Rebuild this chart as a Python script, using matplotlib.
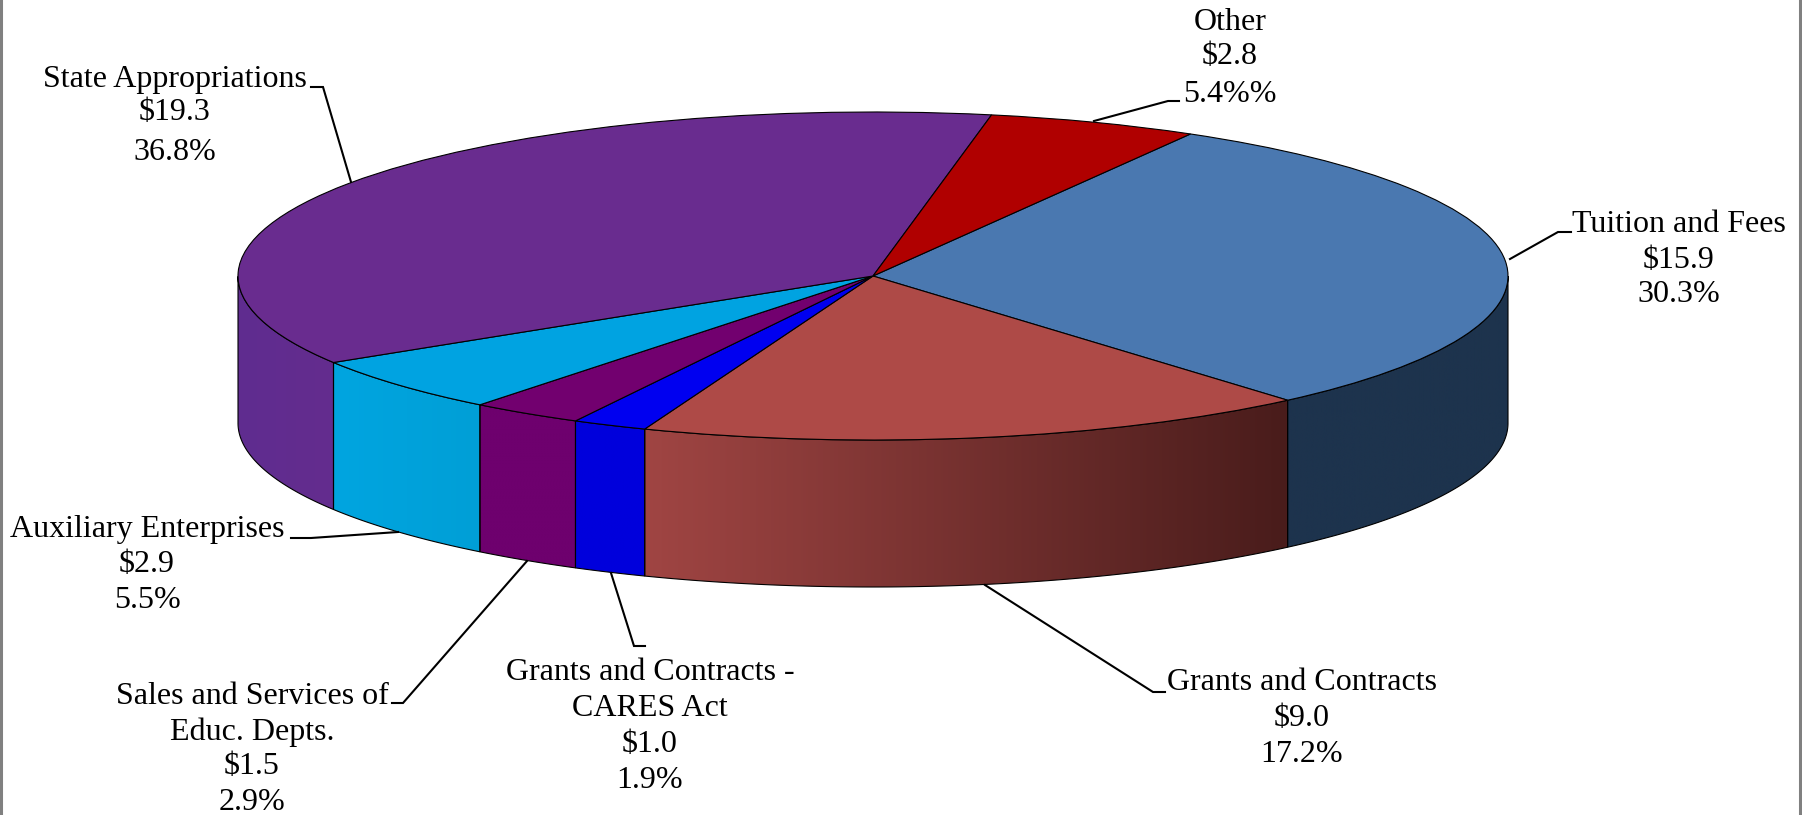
import numpy as np
import matplotlib
matplotlib.use('Agg')
import matplotlib.pyplot as plt
from matplotlib.colors import LinearSegmentedColormap
from matplotlib.patches import Polygon

# Revenue slices, clockwise from the top right
categories = ['Tuition and Fees', 'Grants and Contracts',
              'Grants and Contracts -\nCARES Act', 'Sales and Services of\nEduc. Depts.',
              'Auxiliary Enterprises', 'State Appropriations', 'Other']
amounts = [15.9, 9.0, 1.0, 1.5, 2.9, 19.3, 2.8]
percent_labels = ['30.3%', '17.2%', '1.9%', '2.9%', '5.5%', '36.8%', '5.4%%']

top_colors = ['#4A78B0', '#AE4A47', '#0000F0', '#72006F', '#00A3E1', '#692C8F', '#B00000']
side_left = ['#1D334D', '#A04543', '#0000DC', '#6E006E', '#00A5E0', '#5F2D90', '#B00000']
side_right = ['#1D334D', '#491C1B', '#0000DC', '#6E006E', '#009FD6', '#642C8E', '#B00000']

# Pixel layout of the pie: centre, radii and wall height
WIDTH, HEIGHT = 1802, 815
CX, CY, RX, RY, DEPTH = 873, 276, 635, 164, 147
START_ANGLE = 60

# y of every text line and the centre x of each label, same order as categories
label_x = [1679, 1302, 650, 252, 147, 175, 1230]
label_line_y = [[224, 260, 295], [683, 718, 755], [673, 708, 744, 780],
                [696, 732, 766, 802], [529, 564, 601], [79, 113, 152], [23, 57, 95]]
leaders = [[(1571, 232), (1558, 232), (1510, 259)],
           [(1165, 692), (1153, 692), (985, 585)],
           [(645, 646), (634, 646), (611, 573)],
           [(392, 703), (403, 703), (527, 561)],
           [(291, 538), (311, 538), (398, 532)],
           [(311, 87), (323, 87), (351, 182)],
           [(1179, 101), (1168, 101), (1094, 121)]]


def draw_walls(ax):
    depth = DEPTH / RY
    angle = START_ANGLE
    for value, left, right in zip(amounts, side_left, side_right):
        end = angle - value / sum(amounts) * 360
        t = np.radians(np.linspace(end, angle, 720))
        # only the part facing the viewer is visible
        t = t[np.sin(t) <= 0]
        angle = end
        if len(t) == 0:
            continue
        xs = np.concatenate([np.cos(t), np.cos(t[::-1])])
        ys = np.concatenate([np.sin(t), np.sin(t[::-1]) - depth])
        cmap = LinearSegmentedColormap.from_list('side', [left, right])
        im = ax.imshow(np.linspace(0, 1, 256).reshape(1, -1), cmap=cmap, aspect='auto',
                       extent=[xs.min(), xs.max(), ys.min(), ys.max()], zorder=1)
        wall = Polygon(np.column_stack([xs, ys]), closed=True, facecolor='none',
                       edgecolor='black', linewidth=0.8, zorder=2)
        ax.add_patch(wall)
        im.set_clip_path(wall)


plt.rcParams['font.family'] = ['Liberation Serif', 'DejaVu Serif']
fig = plt.figure(figsize=(WIDTH / 100, HEIGHT / 100), dpi=100)

# Unit-circle axes squashed into an ellipse, so the pie tilts
ax = fig.add_axes([0, 0, 1, 1])
draw_walls(ax)
wedges, _ = ax.pie(amounts, colors=top_colors, startangle=START_ANGLE, counterclock=False,
                   radius=1, wedgeprops={'edgecolor': 'black', 'linewidth': 0.8, 'zorder': 3})
ax.set_aspect('auto')
ax.set_xlim(-CX / RX, (WIDTH - CX) / RX)
ax.set_ylim((CY - HEIGHT) / RY, CY / RY)
ax.axis('off')

# Overlay in reference pixels for the labels and leader lines
over = fig.add_axes([0, 0, 1, 1], facecolor='none')
over.set_xlim(0, WIDTH)
over.set_ylim(HEIGHT, 0)
over.axis('off')

for category, amount, percent, x, line_y, leader in zip(categories, amounts, percent_labels,
                                                        label_x, label_line_y, leaders):
    lines = category.split('\n') + [f'${amount:.1f}', percent]
    for line, y in zip(lines, line_y):
        over.text(x, y, line, ha='center', va='center', fontsize=23, color='black')
    px, py = zip(*leader)
    over.plot(px, py, color='black', linewidth=1.5, solid_joinstyle='miter')

# Grey picture border, left and right only
over.plot([1, 1], [0, HEIGHT], color='#808080', linewidth=2.2)
over.plot([1800, 1800], [0, HEIGHT], color='#808080', linewidth=2.2)

fig.savefig('out.png', dpi=100)
